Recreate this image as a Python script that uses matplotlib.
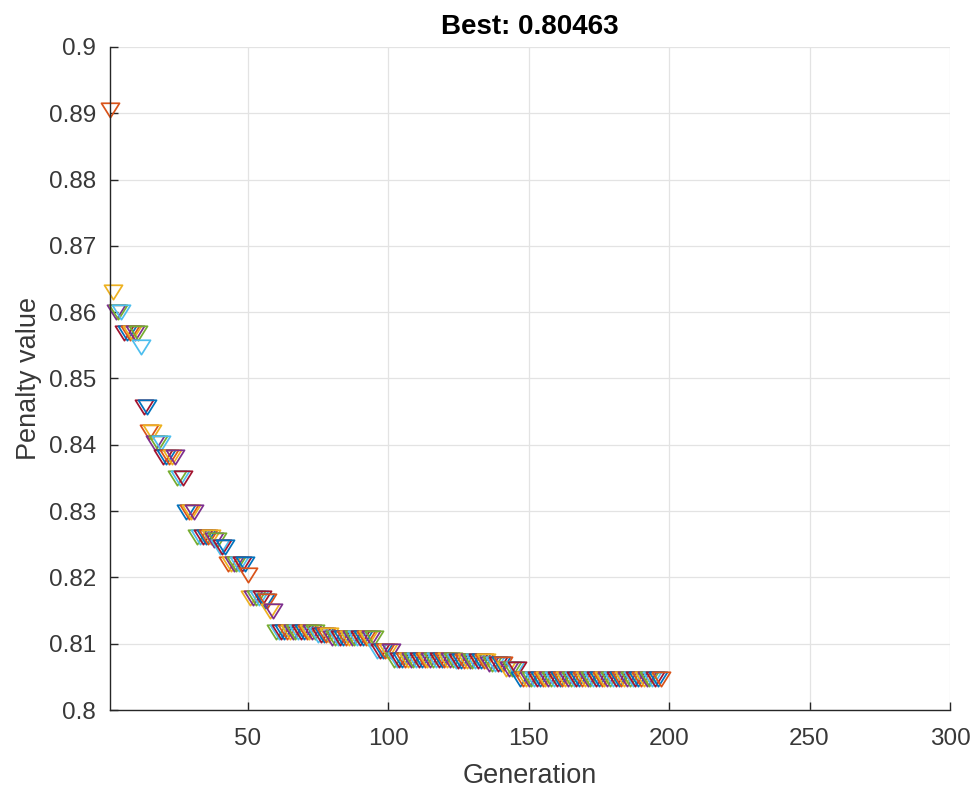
import numpy as np
import matplotlib
matplotlib.use('Agg')
import matplotlib.pyplot as plt
from matplotlib.path import Path
from matplotlib.ticker import FormatStrFormatter

# best penalty per generation, stored as runs of constant value
step_values = [0.8905, 0.8630, 0.8600, 0.8568, 0.8548, 0.8457, 0.8420,
               0.8402, 0.8381, 0.8350, 0.8299, 0.8261, 0.8256, 0.8246,
               0.8220, 0.8204, 0.8169, 0.8165, 0.8150, 0.8117, 0.8113,
               0.8108, 0.8089, 0.8076, 0.8074, 0.8070, 0.8062, 0.80463]
step_lengths = [1, 1, 3, 6, 1, 2, 2,
                3, 5, 3, 4, 6, 2, 3,
                7, 1, 5, 2, 2, 15, 5,
                16, 6, 22, 12, 6, 5, 51]

best = np.repeat(step_values, step_lengths)
generations = np.arange(1, len(best) + 1)

# default colour order of the plotting tool this came from
color_order = ['#0072BD', '#D95319', '#EDB120', '#7E2F8E',
               '#77AC30', '#4DBEEE', '#A2142F']

xticks = [50, 100, 150, 200, 250, 300]
yticks = np.arange(0.80, 0.9001, 0.01)

plt.rcParams['font.family'] = ['Liberation Sans', 'DejaVu Sans']
dark = '#383838'

# flat downward triangle, wider than tall
tri = Path([(-1, 0.8), (1, 0.8), (0, -0.8), (-1, 0.8)],
           [Path.MOVETO, Path.LINETO, Path.LINETO, Path.CLOSEPOLY])

fig = plt.figure(figsize=(9.77, 7.92), dpi=100)
ax = fig.add_axes([0.1126, 0.1035, 0.8598, 0.8372])

for g, v in zip(generations, best):
    ax.plot(g, v, ls='', marker=tri, ms=13, mfc='none', mew=1.25,
            mec=color_order[g % 7], clip_on=False)

ax.set_xlim(1, 300)
ax.set_ylim(0.8, 0.9)
ax.set_xticks(xticks)
ax.set_yticks(yticks)
ax.yaxis.set_major_formatter(FormatStrFormatter('%g'))
ax.grid(True, color='#e3e3e3', lw=0.9)
ax.set_axisbelow(True)

for side in ('top', 'right'):
    ax.spines[side].set_visible(False)
for side in ('left', 'bottom'):
    ax.spines[side].set_color('#262626')
    ax.spines[side].set_linewidth(1.0)

ax.tick_params(direction='in', length=6, width=1.0, colors='#262626',
               labelcolor=dark, labelsize=17.5)
ax.tick_params(axis='x', pad=13)
ax.tick_params(axis='y', pad=10)
ax.set_xlabel('Generation', fontsize=19.5, color=dark, labelpad=9)
ax.set_ylabel('Penalty value', fontsize=19.5, color=dark, labelpad=5)
ax.set_title('Best: %.5f' % best[-1], fontsize=20, fontweight='bold',
             color='black', pad=9)

fig.savefig('out.png', dpi=100)
